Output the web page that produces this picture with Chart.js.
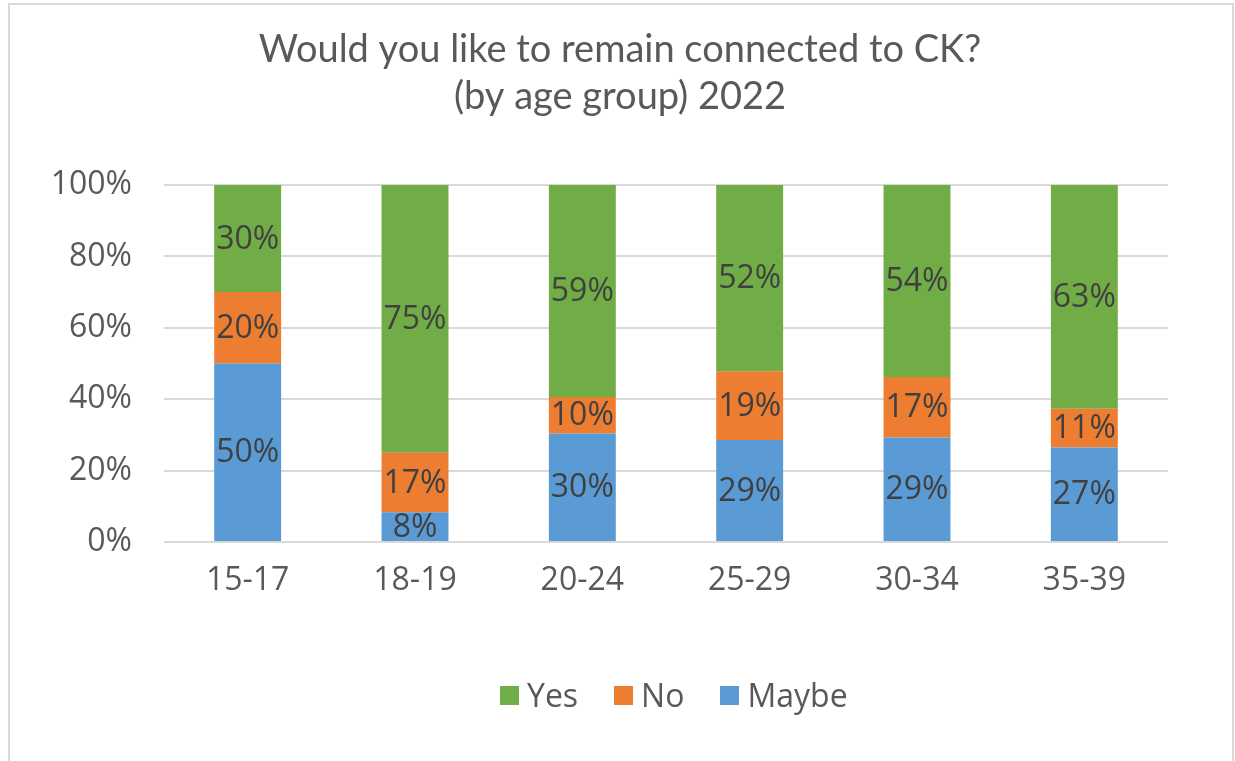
<!DOCTYPE html>
<html>
<head>
<meta charset="utf-8">
<script src="https://cdn.jsdelivr.net/npm/chart.js@4"></script>
<style>
    html, body { margin: 0; padding: 0; background: #ffffff; }
    #wrap { position: relative; width: 1235px; height: 761px; overflow: hidden; }
    #frame {
        position: absolute; left: 8px; top: 3px; width: 1226px; height: 780px;
        border: 2px solid #d9d9d9; pointer-events: none; box-sizing: border-box;
    }
    #legend {
        position: absolute; left: 500px; top: 673px; display: flex; align-items: center;
        font: 32px "Open Sans", sans-serif; color: #595959; line-height: 44px;
    }
    #legend .item { display: flex; align-items: center; margin-right: 36px; }
    #legend .box { width: 19px; height: 19px; margin-right: 8px; }
</style>
</head>
<body>
<div id="wrap">
    <canvas id="chart" width="1235" height="761"></canvas>
    <div id="legend"></div>
    <div id="frame"></div>
</div>
<script>
// Chart data
const ageGroups = ['15-17', '18-19', '20-24', '25-29', '30-34', '35-39'];
const maybeValues = [50, 8.3, 30.4, 28.6, 29.3, 26.5];
const noValues = [20, 16.7, 10.2, 19.2, 16.9, 10.8];
const yesValues = [30, 75.0, 59.4, 52.2, 53.8, 62.7];
const yTicks = [0, 20, 40, 60, 80, 100];
const titleLines = ['Would you like to remain connected to CK?', '(by age group) 2022'];

const FONT = '"Open Sans", sans-serif';

// Title drawn centred on the whole frame, not the plot area
const frameTitle = {
    id: 'frameTitle',
    afterDraw(chart) {
        const ctx = chart.ctx;
        ctx.save();
        ctx.font = '38px Lato, sans-serif';
        ctx.fillStyle = '#595959';
        ctx.textAlign = 'center';
        ctx.textBaseline = 'alphabetic';
        ctx.fillText(titleLines[0], 620, 62);
        ctx.fillText(titleLines[1], 620, 109);
        ctx.restore();
    }
};

// Draws the percentage in the middle of each bar segment
const segmentLabels = {
    id: 'segmentLabels',
    afterDatasetsDraw(chart) {
        const ctx = chart.ctx;
        ctx.save();
        ctx.font = '32px ' + FONT;
        ctx.fillStyle = '#404040';
        ctx.textAlign = 'center';
        ctx.textBaseline = 'middle';
        chart.data.datasets.forEach((ds, i) => {
            const meta = chart.getDatasetMeta(i);
            meta.data.forEach((bar, j) => {
                const y = (bar.y + bar.base) / 2;
                ctx.fillText(Math.round(ds.data[j]) + '%', bar.x, y + 1);
            });
        });
        ctx.restore();
    }
};

const chart = new Chart(document.getElementById('chart'), {
    type: 'bar',
    data: {
        labels: ageGroups,
        datasets: [
            { label: 'Maybe', data: maybeValues, backgroundColor: '#5B9BD5' },
            { label: 'No', data: noValues, backgroundColor: '#ED7D31' },
            { label: 'Yes', data: yesValues, backgroundColor: '#70AD47' }
        ]
    },
    options: {
        responsive: false,
        animation: false,
        layout: { padding: { left: 0, right: 67, top: 185, bottom: 91 } },
        datasets: {
            bar: { barPercentage: 0.4, categoryPercentage: 1.0, borderWidth: 0 }
        },
        plugins: {
            title: { display: false },
            legend: { display: false },
            tooltip: { enabled: false }
        },
        scales: {
            x: {
                stacked: true,
                grid: { display: false, drawTicks: false },
                border: { display: false },
                ticks: { color: '#595959', font: { family: FONT, size: 32 }, padding: 20 },
                afterFit: (scale) => { scale.height = 128; }
            },
            y: {
                stacked: true,
                min: 0,
                max: 100,
                afterBuildTicks: (scale) => { scale.ticks = yTicks.map(v => ({ value: v })); },
                grid: { color: '#d9d9d9', lineWidth: 2, drawTicks: false },
                border: { display: false },
                ticks: {
                    color: '#595959',
                    font: { family: FONT, size: 32 },
                    padding: 32,
                    callback: (v) => v + '%'
                },
                afterFit: (scale) => { scale.width = 164; }
            }
        }
    },
    plugins: [frameTitle, segmentLabels]
});

// Legend in the order Yes, No, Maybe (top of stack first)
const legendEl = document.getElementById('legend');
chart.data.datasets.slice().reverse().forEach(ds => {
    const item = document.createElement('div');
    item.className = 'item';
    const box = document.createElement('span');
    box.className = 'box';
    box.style.background = ds.backgroundColor;
    const txt = document.createElement('span');
    txt.textContent = ds.label;
    item.appendChild(box);
    item.appendChild(txt);
    legendEl.appendChild(item);
});
</script>
</body>
</html>
